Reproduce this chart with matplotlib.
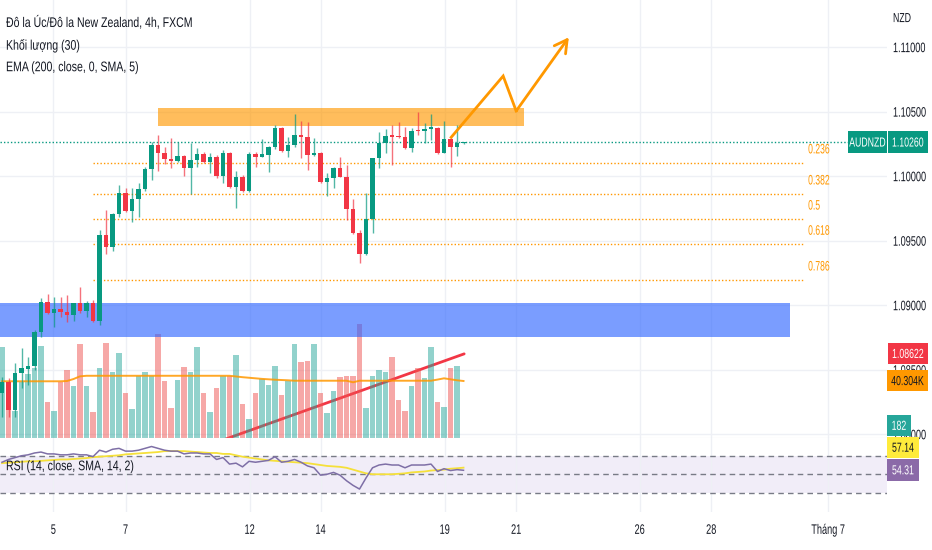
import matplotlib
matplotlib.use("Agg")
import numpy as np
import matplotlib.pyplot as plt
import matplotlib.transforms as mtransforms
from matplotlib.patches import Rectangle
from matplotlib.patheffects import AbstractPathEffect

plt.rcParams['font.family'] = ['Liberation Sans', 'DejaVu Sans']

# AUDNZD 4h candles
opens = [1.08316, 1.08406, 1.08187, 1.08474, 1.08505, 1.08528, 1.08791, 1.09024, 1.08941, 1.08967,
         1.08949, 1.08923, 1.09014, 1.08956, 1.09014, 1.08879, 1.09543, 1.09448, 1.09706, 1.09871,
         1.09731, 1.09820, 1.09897, 1.10052, 1.10241, 1.10181, 1.10130, 1.10119, 1.10155, 1.10060,
         1.10124, 1.10168, 1.10111, 1.10145, 1.10000, 1.10181, 1.09913, 1.09995, 1.09886, 1.10168,
         1.10150, 1.10163, 1.10227, 1.10375, 1.10196, 1.10241, 1.10318, 1.10300, 1.10163, 1.10181,
         1.09956, 1.09982, 1.10060, 1.09995, 1.09742, 1.09561, 1.09393, 1.09665, 1.10137, 1.10254,
         1.10318, 1.10310, 1.10305, 1.10215, 1.10357, 1.10351, 1.10365, 1.10375, 1.10181, 1.10285,
         1.10223, 1.10254]
highs = [1.08445, 1.08435, 1.08551, 1.08667, 1.08600, 1.08807, 1.09055, 1.09086, 1.09065, 1.09063,
         1.09078, 1.09016, 1.09142, 1.09034, 1.09039, 1.09582, 1.09737, 1.09716, 1.09931, 1.09905,
         1.09905, 1.09944, 1.10072, 1.10266, 1.10318, 1.10227, 1.10292, 1.10266, 1.10163, 1.10258,
         1.10215, 1.10189, 1.10181, 1.10163, 1.10202, 1.10189, 1.10041, 1.10008, 1.10189, 1.10189,
         1.10285, 1.10230, 1.10396, 1.10382, 1.10305, 1.10481, 1.10429, 1.10421, 1.10292, 1.10189,
         1.10026, 1.10072, 1.10150, 1.10086, 1.09820, 1.09582, 1.09866, 1.10140, 1.10344, 1.10362,
         1.10396, 1.10421, 1.10382, 1.10370, 1.10499, 1.10409, 1.10481, 1.10382, 1.10429, 1.10292,
         1.10396, 1.10266]
lows = [1.08135, 1.08132, 1.08132, 1.08357, 1.08381, 1.08497, 1.08753, 1.08931, 1.08832, 1.08910,
        1.08871, 1.08876, 1.08936, 1.08910, 1.08871, 1.08846, 1.09396, 1.09421, 1.09685, 1.09724,
        1.09646, 1.09685, 1.09886, 1.09969, 1.10041, 1.10093, 1.10060, 1.10111, 1.10000, 1.09861,
        1.10068, 1.10099, 1.10026, 1.09982, 1.09944, 1.09905, 1.09750, 1.09879, 1.09879, 1.10072,
        1.10145, 1.10034, 1.10207, 1.10189, 1.10150, 1.10227, 1.10137, 1.10047, 1.10155, 1.09948,
        1.09845, 1.09905, 1.09990, 1.09659, 1.09551, 1.09328, 1.09388, 1.09556, 1.10060, 1.10176,
        1.10086, 1.10292, 1.10207, 1.10189, 1.10318, 1.10254, 1.10279, 1.10171, 1.10176, 1.10072,
        1.10155, 1.10248]
closes = [1.08406, 1.08187, 1.08476, 1.08512, 1.08530, 1.08791, 1.09024, 1.08941, 1.08967, 1.08949,
          1.08923, 1.09014, 1.08956, 1.09014, 1.08879, 1.09543, 1.09448, 1.09706, 1.09871, 1.09731,
          1.09820, 1.09897, 1.10052, 1.10241, 1.10181, 1.10130, 1.10119, 1.10155, 1.10060, 1.10124,
          1.10168, 1.10111, 1.10145, 1.10000, 1.10181, 1.09913, 1.09995, 1.09886, 1.10168, 1.10150,
          1.10168, 1.10227, 1.10375, 1.10196, 1.10241, 1.10318, 1.10300, 1.10163, 1.10181, 1.09956,
          1.09982, 1.10060, 1.09995, 1.09742, 1.09561, 1.09393, 1.09665, 1.10137, 1.10254, 1.10310,
          1.10300, 1.10300, 1.10215, 1.10351, 1.10349, 1.10365, 1.10378, 1.10181, 1.10285, 1.10223,
          1.10254, 1.10260]
volumes = [64100, 28300, 19100, 39400, 45200, 49500, 65300, 25200, 19300, 39800,
           48100, 36600, 66500, 36600, 18200, 49300, 67200, 46400, 59900, 31800,
           20500, 44000, 46400, 44000, 73500, 40500, 21200, 41200, 50000, 46400,
           64100, 31800, 18200, 35600, 44000, 44000, 58700, 24000, 13400, 31800,
           41700, 37500, 50700, 30600, 40500, 66500, 53500, 54700, 66500, 31800,
           17500, 33400, 42900, 44000, 44000, 80600, 21200, 44000, 48100, 46400,
           57500, 27100, 19300, 36600, 49300, 42200, 64100, 25200, 22100, 49300,
           50700, 182]
vol_ma = [40100] * 10 + [40300, 41700, 43600] + [44000] * 23 + \
         [43500, 43000, 42600, 42200, 41800, 41500, 41200, 41000, 40800] + [40500] * 9 + \
         [39400] + [40500] * 12 + [41300, 42200, 41500, 40800, 40304]
rsi = [63, 66, 68, 70, 71, 73, 74, 72, 72, 71, 71, 72, 71, 71, 69, 76, 74, 77, 78, 75,
       75, 76, 78, 80, 78, 76, 75, 75, 72, 73, 73, 72, 72, 66, 68, 61, 62, 58, 64, 63,
       64, 65, 69, 63, 64, 66, 63, 59, 57, 49, 50, 52, 49, 43, 38, 34, 46, 57, 60, 61,
       60, 60, 57, 60, 60, 60, 61, 53, 56, 54, 55, 54.31]
rsi_ma = [62, 62.5, 63, 63.5, 64, 64, 64.5, 65, 65.5, 66, 66, 66.5, 67, 67.5, 68.5, 69, 69.5, 70,
          70.5, 71.5, 72, 72.5, 73, 73.5, 74, 75, 75, 75, 75, 74.5, 74, 73.5, 73, 73, 72, 72,
          70.5, 69, 68, 67, 66, 65, 64.5, 64, 63.5, 63, 62.5, 62, 61, 60, 59, 58.5, 58, 57,
          55, 53, 51, 50, 50, 50, 50, 50.5, 51, 52, 52.5, 53, 54, 54.5, 55, 56, 56.5, 57.14]

day_ticks = [7.9, 19.0, 38.1, 49.0, 68.1, 79.1, 98.1, 109.1, 127.1]
day_labels = ['5', '7', '12', '14', '19', '21', '26', '28', 'Tháng 7']
price_ticks = [1.080, 1.085, 1.090, 1.095, 1.100, 1.105, 1.110]

# drawings
fib_high, fib_low = 1.1049, 1.0884
fib_ratios = [0.236, 0.382, 0.5, 0.618, 0.786]
fib_labels = ['0.236', '0.382', '0.5', '0.618', '0.786']
fib_start, fib_end = 14.0, 123.4
res_zone = [24.0, 80.3, 1.10388, 1.10525]
sup_zone = [-1.0, 121.3, 1.08754, 1.09013]
arrow_x = [69.1, 77.1, 79.1, 87.2]
arrow_p = [1.10300, 1.10775, 1.10504, 1.11075]
trend_x = [34.3, 71.1]
trend_p = [1.0796, 1.08622]

GREEN, RED, ORANGE = '#089981', '#f23645', '#ff9800'
GRID, TXT = '#eef0f5', '#131722'
AX_W, MAIN_H, RSI_H = 887, 438, 74
PRICE_LIM = (1.07970, 1.11364)
VOL_LIM = (0, 309700)
RSI_LIM = (9.2, 89.2)


class Tall(AbstractPathEffect):
    """stretch glyphs upward so a small font looks like the tall, narrow screen font"""
    def __init__(self, sy, cy=36):
        super().__init__()
        self.sy, self.cy = sy, cy

    def draw_path(self, renderer, gc, tpath, affine, rgbFace=None):
        st = mtransforms.Affine2D().translate(0, -self.cy).scale(1, self.sy).translate(0, self.cy)
        renderer.draw_path(gc, tpath, st + affine, rgbFace)


TALL_LEGEND = [Tall(1.32)]
TALL_AXIS = [Tall(1.5)]

bars = np.arange(len(closes))
o, c = np.array(opens), np.array(closes)
up = c >= o

fig = plt.figure(figsize=(9.32, 5.5), dpi=100)
ax = fig.add_axes([0, 112 / 550, AX_W / 932, MAIN_H / 550])
ax_rsi = fig.add_axes([0, 38 / 550, AX_W / 932, RSI_H / 550], sharex=ax)
ax_vol = ax.twinx()
ax_vol.set_ylim(*VOL_LIM)
ax_vol.set_visible(False)
vol_trans = mtransforms.blended_transform_factory(ax.transData, ax_vol.transData)

# grid
ax.set_xticks(day_ticks)
ax.set_yticks(price_ticks)
ax.set_yticklabels([f'{p:.5f}' for p in price_ticks])
ax.grid(True, color=GRID, lw=1)
ax.set_axisbelow(True)
ax_rsi.grid(True, axis='x', color=GRID, lw=1)

# volume + its MA
vcol = np.where(up, '#26a69a', '#ef5350')
ax.plot(trend_x, trend_p, color=RED, lw=2, zorder=1.5, solid_capstyle='round')
ax.bar(bars, volumes, width=0.78, color=vcol, alpha=0.5, transform=vol_trans, zorder=2)
ax.plot(bars, vol_ma, color=ORANGE, lw=1.4, alpha=0.85, transform=vol_trans, zorder=2.5)

# zones
ax.add_patch(Rectangle((sup_zone[0], sup_zone[2]), sup_zone[1] - sup_zone[0],
                       sup_zone[3] - sup_zone[2], fc='#2962ff', alpha=0.62, ec='none', zorder=3))
ax.add_patch(Rectangle((res_zone[0], res_zone[2]), res_zone[1] - res_zone[0],
                       res_zone[3] - res_zone[2], fc=ORANGE, alpha=0.64, ec='none', zorder=3))

# fibonacci
fib_prices = [fib_high - r * (fib_high - fib_low) for r in fib_ratios]
ax.hlines(fib_prices, fib_start, fib_end, colors=ORANGE, linestyles=(0, (1, 1.5)), lw=1, zorder=3)
for fp, lab in zip(fib_prices, fib_labels):
    t = ax.annotate(lab, xy=(fib_end, fp), xytext=(4, 14), textcoords='offset pixels',
                    ha='left', va='center', color=ORANGE, fontsize=6.2)
    t.set_path_effects([Tall(1.6)])

# last price line
ax.axhline(closes[-1], color=GREEN, ls=(0, (1, 1.5)), lw=1, zorder=3.5)

# candles
ccol = np.where(up, GREEN, RED)
ax.vlines(bars, lows, highs, colors=ccol, lw=1, alpha=0.7, zorder=4)
body_lo = np.minimum(o, c)
body_h = np.maximum(np.abs(c - o), 0.00003)
ax.bar(bars, body_h, bottom=body_lo, width=0.7, color=ccol, zorder=5)

# arrow drawing
ax.plot(arrow_x[:3], arrow_p[:3], color=ORANGE, lw=2, zorder=6, solid_joinstyle='miter')
ax.annotate('', xy=(arrow_x[3], arrow_p[3]), xytext=(arrow_x[2], arrow_p[2]),
            arrowprops=dict(arrowstyle='->,head_length=0.9,head_width=0.5', color=ORANGE,
                            lw=2, shrinkA=0, shrinkB=0), zorder=6)

ax.set_xlim(-0.31, 136.15)
ax.set_ylim(*PRICE_LIM)
ax_vol.set_ylim(*VOL_LIM)

for s in ['top', 'left', 'right']:
    ax.spines[s].set_visible(False)
ax.spines['bottom'].set_color('#e0e3eb')
ax.yaxis.tick_right()
ax.tick_params(axis='y', length=0, pad=4.3, labelsize=6.6, labelcolor=TXT)
ax.tick_params(axis='x', length=0, labelbottom=False)

# RSI pane
ax_rsi.axhspan(30, 70, color='#7e57c2', alpha=0.1, lw=0)
for lvl in (70, 50, 30):
    ax_rsi.axhline(lvl, color='#787b86', lw=1, ls=(0, (4, 3)))
ax_rsi.plot(bars, rsi_ma, color='#f5e03a', lw=1.3)
ax_rsi.plot(bars, rsi, color='#7e6fa6', lw=1.1)
ax_rsi.set_ylim(*RSI_LIM)
ax_rsi.set_yticks([])
for s in ax_rsi.spines.values():
    s.set_visible(False)
ax_rsi.set_xticks(day_ticks, day_labels)
ax_rsi.tick_params(axis='x', length=0, pad=9.5, labelsize=6.6, labelcolor=TXT)
t = ax_rsi.text(6 / AX_W, (RSI_H - 28) / RSI_H, 'RSI (14, close, SMA, 14, 2)',
                transform=ax_rsi.transAxes, fontsize=7.6, color=TXT, va='center')
t.set_path_effects(TALL_LEGEND)

# legend texts
for txt, yy in zip(['Đô la Úc/Đô la New Zealand, 4h, FXCM', 'Khối lượng (30)',
                    'EMA (200, close, 0, SMA, 5)'], [22, 45, 67]):
    t = ax.annotate(txt, xy=(0, 1), xycoords='axes fraction', xytext=(6, -yy),
                    textcoords='offset pixels', ha='left', va='center', fontsize=7.6, color=TXT)
    t.set_path_effects(TALL_LEGEND)
t = ax.annotate('NZD', xy=(1, 1), xycoords='axes fraction', xytext=(6, -18),
                textcoords='offset pixels', ha='left', va='center', fontsize=6.3, color=TXT)
t.set_path_effects(TALL_AXIS)

for lbl in ax.yaxis.get_ticklabels() + ax_rsi.xaxis.get_ticklabels():
    lbl.set_path_effects(TALL_AXIS)


# price tags on the scale
def tag(axis, ytrans, dpp, y, text, fc, tc, x0, x1, dy=0, h=21):
    # x0/x1: box edges in pixels from the right edge of the plot
    yc = y + dy * dpp
    tr = mtransforms.blended_transform_factory(axis.transAxes, ytrans)
    axis.add_patch(Rectangle((1 + x0 / AX_W, yc - h / 2 * dpp), (x1 - x0) / AX_W, h * dpp,
                             transform=tr, fc=fc, ec='none', clip_on=False, zorder=9))
    tt = axis.text(1 + (x0 + x1) / 2 / AX_W, yc, text, transform=tr, ha='center',
                   va='center', color=tc, fontsize=6.3, zorder=10)
    tt.set_path_effects(TALL_AXIS)


p_dpp = (PRICE_LIM[1] - PRICE_LIM[0]) / MAIN_H
v_dpp = (VOL_LIM[1] - VOL_LIM[0]) / MAIN_H
r_dpp = (RSI_LIM[1] - RSI_LIM[0]) / RSI_H
tag(ax, ax.transData, p_dpp, closes[-1], 'AUDNZD', GREEN, 'white', -39, 0, h=22)
tag(ax, ax.transData, p_dpp, closes[-1], f'{closes[-1]:.5f}', GREEN, 'white', 1, 41, h=22)
tag(ax, ax.transData, p_dpp, trend_p[-1], f'{trend_p[-1]:.5f}', RED, 'white', 1, 41)
tag(ax, ax_vol.transData, v_dpp, vol_ma[-1], f'{vol_ma[-1] / 1000:.3f}K', ORANGE, TXT, 0, 41)
tag(ax, ax_vol.transData, v_dpp, volumes[-1], str(volumes[-1]), '#26a69a', 'white', 0, 24, dy=12)
tag(ax_rsi, ax_rsi.transData, r_dpp, rsi_ma[-1], f'{rsi_ma[-1]:.2f}', '#ffeb3b', TXT, 0, 32, dy=20)
tag(ax_rsi, ax_rsi.transData, r_dpp, rsi[-1], f'{rsi[-1]:.2f}', '#8b6aa8', 'white', 0, 32, h=22)

fig.savefig('out.png', dpi=100)
